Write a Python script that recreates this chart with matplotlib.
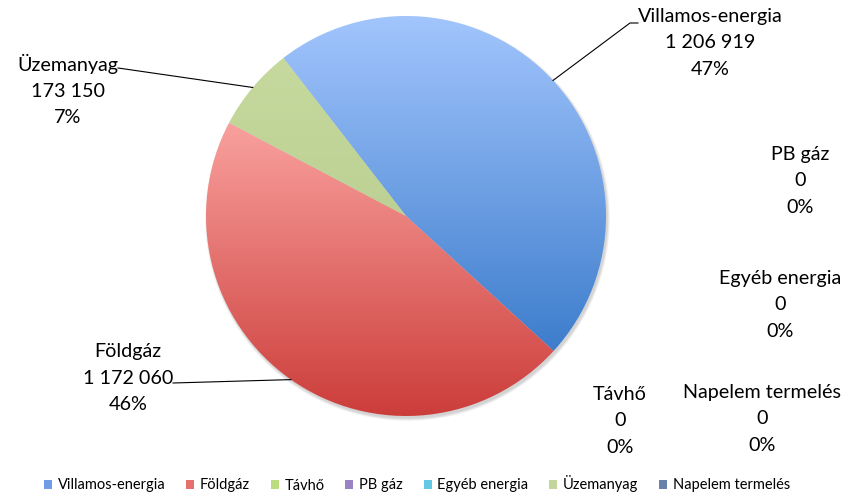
import numpy as np
import matplotlib
matplotlib.use('Agg')
import matplotlib.pyplot as plt
from matplotlib.patches import Patch, Circle
from matplotlib.colors import to_rgb

plt.rcParams['font.family'] = ['Lato', 'DejaVu Sans']

# ---- data ----
categories = ['Villamos-energia', 'Földgáz', 'Távhő', 'PB gáz',
              'Egyéb energia', 'Üzemanyag', 'Napelem termelés']
values = [1206919, 1172060, 0, 0, 0, 173150, 0]
value_labels = ['1 206 919', '1 172 060', '0', '0', '0', '173 150', '0']
percent_labels = ['47%', '46%', '0%', '0%', '0%', '7%', '0%']

# ---- styles ----
top_colors = ['#a2c5fd', '#f9a19e', '#d8f0a6', '#b8a6de', '#90e1f3', '#c6d99e', '#a8b8d8']
bottom_colors = ['#3d7dcc', '#cc3d3a', '#98c457', '#7b5ea7', '#35b0d4', '#bdd194', '#2c4c7e']
legend_colors = ['#6f9ee6', '#e5706c', '#bddc80', '#9a82c3', '#62c8e4', '#c3d69b', '#6a82ab']

# label layout (pixel positions, centre of the middle line)
label_pos = [(710, 43), (128, 378), (620, 421), (800, 181),
             (780, 305), (68, 90), (762, 419)]

W, H = 846, 492
fig = plt.figure(figsize=(W / 100, H / 100), dpi=100)
ax = fig.add_axes([0, 0, 1, 1])
ax.axis('off')

cx, cy, R = 406, H - 216, 200

# soft shadow
for i in range(5):
    ax.add_patch(Circle((cx + 1.5, cy - 2.5), R + 0.6 * i, facecolor='black',
                        edgecolor='none', alpha=0.035, zorder=0))

wedges, _ = ax.pie(values, startangle=127.8, counterclock=False,
                   center=(cx, cy), radius=R, frame=False,
                   wedgeprops=dict(linewidth=0, edgecolor='none'))

for w, v, ct, cb in zip(wedges, values, top_colors, bottom_colors):
    w.set_facecolor('none')
    w.set_zorder(2)
    if v <= 0:
        continue
    ext = w.get_path().get_extents()
    t = np.linspace(0, 1, 256)[:, None]
    c0, c1 = np.array(to_rgb(cb)), np.array(to_rgb(ct))
    grad = (c0[None, :] * (1 - t) + c1[None, :] * t)[:, None, :]
    im = ax.imshow(grad, extent=(ext.x0, ext.x1, ext.y0, ext.y1), origin='lower',
                   aspect='auto', interpolation='bilinear', zorder=1)
    im.set_clip_path(w)

ax.set_xlim(0, W)
ax.set_ylim(0, H)
ax.set_aspect('equal')

# data labels
fs = 14.2
for i, (cat, vl, pl) in enumerate(zip(categories, value_labels, percent_labels)):
    x, y = label_pos[i]
    ax.text(x, H - y, f'{cat}\n{vl}\n{pl}', ha='center', va='center',
            fontsize=fs, linespacing=1.65, color='black', zorder=5)

# leader lines
def edge_point(w):
    mid = np.deg2rad((w.theta1 + w.theta2) / 2)
    return cx + R * np.cos(mid), cy + R * np.sin(mid)

leaders = {0: [(630, 23), (638, 23)], 5: [(125, 69), (118, 68)], 1: [(173, 383)]}
for idx, pts in leaders.items():
    ex, ey = edge_point(wedges[idx])
    xs = [ex] + [p[0] for p in pts]
    ys = [ey] + [H - p[1] for p in pts]
    ax.plot(xs, ys, color='black', lw=0.8, zorder=4)

handles = [Patch(facecolor=c, edgecolor='none', label=l)
           for c, l in zip(legend_colors, categories)]
fig.legend(handles=handles, loc='center', bbox_to_anchor=(417 / W, 1 - 484 / H),
           ncol=7, frameon=False, fontsize=10.5, handlelength=0.55, handleheight=0.55,
           handletextpad=0.4, columnspacing=1.42, borderaxespad=0, borderpad=0)

fig.savefig('out.png', dpi=100)
